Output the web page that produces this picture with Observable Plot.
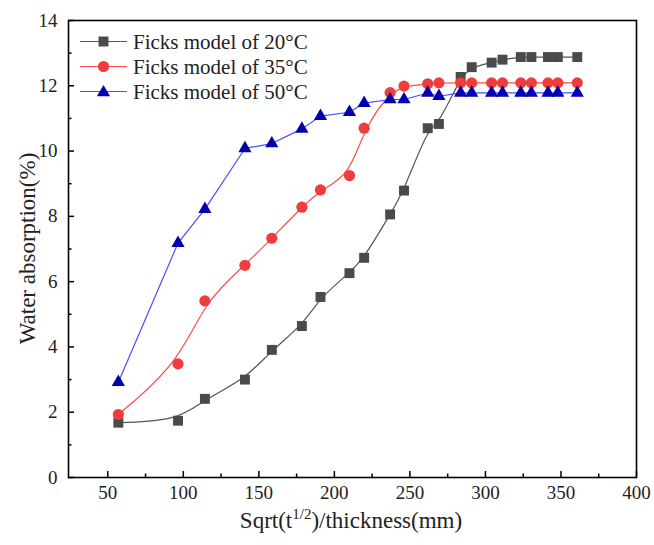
<!DOCTYPE html>
<html><head><meta charset="utf-8">
<script src="https://cdn.jsdelivr.net/npm/d3@7"></script>
<script src="https://cdn.jsdelivr.net/npm/@observablehq/plot@0.6"></script>
<style>body{margin:0;background:#fff} svg text{font-family:"Liberation Serif","Times New Roman",serif !important;}</style>
</head><body><div id="chart"></div>
<script>
// x positions: Sqrt(t^1/2)/thickness
const xs = [57, 96.5, 114.3, 140.8, 158.6, 178.5, 190.8, 210, 219.7, 236.9, 246.1, 261.8, 269.2, 283.6, 290.9, 304.1, 311.3, 323.4, 330.4, 341.4, 347.9, 360.8];
const y20 = [1.68, 1.74, 2.41, 3.0, 3.91, 4.64, 5.53, 6.26, 6.73, 8.06, 8.79, 10.7, 10.83, 12.27, 12.57, 12.71, 12.8, 12.88, 12.88, 12.88, 12.88, 12.88];
const y35 = [1.93, 3.48, 5.41, 6.5, 7.33, 8.28, 8.81, 9.25, 10.7, 11.79, 11.99, 12.06, 12.09, 12.09, 12.09, 12.09, 12.09, 12.09, 12.09, 12.09, 12.09, 12.09];
const y50 = [2.92, 7.18, 8.22, 10.08, 10.23, 10.68, 11.07, 11.19, 11.47, 11.58, 11.58, 11.78, 11.68, 11.78, 11.78, 11.78, 11.78, 11.78, 11.78, 11.78, 11.78, 11.78];
const seriesNames = ["Ficks model of 20°C", "Ficks model of 35°C", "Ficks model of 50°C"];
const xTicks = [50, 100, 150, 200, 250, 300, 350, 400];
const xMinor = [75, 125, 175, 225, 275, 325, 375];
const yTicks = [0, 2, 4, 6, 8, 10, 12, 14];
const yMinor = [1, 3, 5, 7, 9, 11, 13];

const series = [
  {name: seriesNames[0], ys: y20, symbol: "square", r: 5.6, fill: "#4a4a4a", line: "#555555", curve: "basis"},
  {name: seriesNames[1], ys: y35, symbol: "circle", r: 5.6, fill: "#f03c3c", line: "#ff4a4a", curve: "basis"},
  {name: seriesNames[2], ys: y50, symbol: "triangle", r: 4.9, fill: "#0000b0", line: "#4d4dff", curve: "linear"}
];

const W = 654, H = 545, mL = 68, mR = 18, mT = 20, mB = 68;
const pw = W - mL - mR, ph = H - mT - mB;
const font = "Liberation Serif";

const marks = [];
for (const s of series) {
  const data = xs.map((x, i) => ({x, y: s.ys[i]}));
  marks.push(Plot.line(data, {x: "x", y: "y", curve: s.curve, stroke: s.line, strokeWidth: 1.2}));
}
for (const s of series) {
  const data = xs.map((x, i) => ({x, y: s.ys[i]}));
  marks.push(Plot.dot(data, {x: "x", y: "y", symbol: s.symbol, r: s.r, fill: s.fill, stroke: "none"}));
}
marks.push(
  Plot.tickX(xTicks, {x: d => d, insetTop: ph - 6, stroke: "black", strokeWidth: 1.5}),
  Plot.tickX(xMinor, {x: d => d, insetTop: ph - 3.5, stroke: "black", strokeWidth: 1.5}),
  Plot.tickY(yTicks, {y: d => d, insetRight: pw - 6, stroke: "black", strokeWidth: 1.5}),
  Plot.tickY(yMinor, {y: d => d, insetRight: pw - 3.5, stroke: "black", strokeWidth: 1.5}),
  Plot.axisX({ticks: xTicks, tickSize: 0, tickPadding: 8, label: null, fill: "#222", fontSize: 19, fontFamily: font}),
  Plot.axisY({ticks: yTicks, tickSize: 0, tickPadding: 11, label: null, fill: "#222", fontSize: 19, fontFamily: font}),
  Plot.frame({stroke: "black", strokeWidth: 1.6})
);

const chart = Plot.plot({
  width: W, height: H,
  marginLeft: mL, marginRight: mR, marginTop: mT, marginBottom: mB,
  x: {domain: [24, 400]},
  y: {domain: [0, 14]},
  style: {fontFamily: font, fontSize: "19px", color: "#222", background: "#fff"},
  marks
});
document.getElementById("chart").appendChild(chart);

const svg = d3.select(chart);

// Axis titles
const xt = svg.append("text")
  .attr("x", 351).attr("y", 528)
  .attr("text-anchor", "middle")
  .attr("font-family", font).attr("font-size", 23).attr("fill", "#222");
xt.append("tspan").text("Sqrt(t");
xt.append("tspan").attr("dy", -9).attr("font-size", 15).text("1/2");
xt.append("tspan").attr("dy", 9).text(")/thickness(mm)");

svg.append("text")
  .attr("transform", `translate(27,${mT + ph / 2}) rotate(-90)`)
  .attr("text-anchor", "middle")
  .attr("dy", "0.35em")
  .attr("font-family", font).attr("font-size", 23).attr("fill", "#222")
  .text("Water absorption(%)");

// Legend
const legendRows = [41.5, 66.5, 91.5];
const symMap = {square: d3.symbolSquare, circle: d3.symbolCircle, triangle: d3.symbolTriangle};
series.forEach((s, i) => {
  const g = svg.append("g").attr("transform", `translate(0,${legendRows[i]})`);
  g.append("line").attr("x1", 80).attr("x2", 127).attr("y1", 0).attr("y2", 0)
    .attr("stroke", s.line).attr("stroke-width", 1.2);
  g.append("path").attr("transform", `translate(103.5,${s.symbol === "triangle" ? 1 : 0})`)
    .attr("d", d3.symbol(symMap[s.symbol], Math.PI * s.r * s.r)())
    .attr("fill", s.fill);
  g.append("text").attr("x", 133).attr("y", 0).attr("dy", "0.35em")
    .attr("text-anchor", "start")
    .attr("font-family", font).attr("font-size", 21).attr("fill", "#222")
    .text(s.name);
});
</script>
</body></html>
